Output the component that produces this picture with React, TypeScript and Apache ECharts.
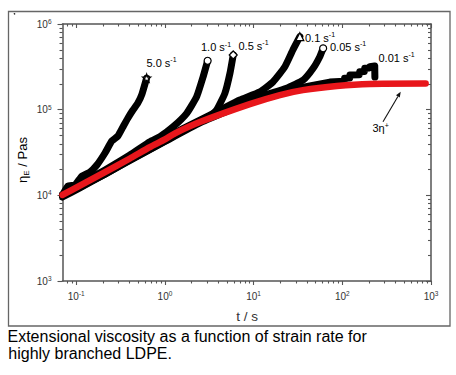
import React, { useEffect, useRef } from "react";
import * as echarts from "echarts";

// ---- data (t in s, eta_E in Pa·s) ----
const tLVE = [0.07, 0.11, 0.211, 0.403, 0.677, 1.0, 1.3, 2.48, 9.06, 19.8, 35.9, 86.8, 204, 870];
const etaLVE = [10100, 13000, 18700, 26900, 36600, 44900, 53000, 71700, 116000, 148000, 169000, 189000, 200000, 202000];

const t5_0 = [0.07, 0.0807, 0.0967, 0.116, 0.143, 0.171, 0.211, 0.252, 0.295, 0.336, 0.383, 0.436, 0.496, 0.551, 0.622];
const eta5_0 = [10100, 12900, 13200, 16800, 18700, 22600, 31200, 43100, 49300, 62800, 80000, 99000, 120000, 152000, 234000];

const t1_0 = [0.07, 0.11, 0.211, 0.403, 0.677, 0.878, 1.24, 1.76, 2.28, 2.7, 3.03];
const eta1_0 = [10100, 13600, 19800, 29600, 42300, 48300, 63200, 90600, 142000, 243000, 372000];

const t0_5 = [0.07, 0.11, 0.211, 0.403, 1.0, 1.68, 2.48, 3.21, 3.83, 4.74, 5.41, 5.89];
const eta0_5 = [9800, 12500, 17700, 25800, 43000, 58500, 74000, 82800, 99100, 155000, 266000, 435000];

const t0_1 = [0.07, 0.11, 0.211, 0.403, 1.0, 2.48, 4.17, 7.0, 11.8, 16.6, 22.5, 27.7, 33.2];
const eta0_1 = [10100, 12800, 19200, 28000, 46700, 75700, 99100, 130000, 162000, 212000, 317000, 497000, 711000];

const t0_05 = [0.07, 0.11, 0.211, 0.403, 1.0, 2.48, 5.41, 11.8, 23.5, 36.3, 46.9, 55.7, 60.8];
const eta0_05 = [9560, 12200, 17700, 25600, 42500, 70000, 99100, 141000, 178000, 222000, 304000, 415000, 520000];

const t0_01 = [0.07, 0.11, 0.211, 0.403, 0.677, 1.0, 1.6, 2.48, 4.5, 9.06, 15, 25.6, 43.0, 72.3, 105, 106, 121, 122, 155, 157, 177, 179, 202, 204, 232, 233];
const eta0_01 = [10100, 13200, 19300, 28000, 37500, 46000, 56500, 73500, 93000, 121000, 142000, 170000, 189000, 210000, 214000, 232000, 234000, 254000, 256000, 277000, 279000, 304000, 306000, 317000, 324000, 240000];

const rateLabels = ["5.0", "1.0", "0.5", "0.1", "0.05", "0.01"];

const xMajorTicks = [0.1, 1, 10, 100, 1000];
const yMajorTicks = [1000, 10000, 100000, 1000000];
const xDecades = [0.01, 0.1, 1, 10, 100];
const yDecades = [1000, 10000, 100000];
const minorMult = [2, 3, 4, 5, 6, 7, 8, 9];

const X_MIN = 0.07;
const X_MAX = 1000;
const Y_MIN = 1000;
const Y_MAX = 1000000;

const xMinorTicks = xDecades
  .flatMap((d) => minorMult.map((m) => +(d * m).toPrecision(3)))
  .filter((v) => v > X_MIN && v < X_MAX);
const yMinorTicks = yDecades.flatMap((d) => minorMult.map((m) => d * m));

const AXIS = "#555";
const FONT = "Liberation Sans, Arial, sans-serif";
const RED = "#e8161b";

const STAR =
  "path://M50,0 L61,35 L98,35 L68,57 L79,91 L50,70 L21,91 L32,57 L2,35 L39,35 Z";

function expLabel(v: number) {
  const e = Math.round(Math.log10(v));
  return `{b|10}{s|${e}}`;
}

const tickRich = {
  b: { fontSize: 10, lineHeight: 12, fontFamily: FONT, color: "#333" },
  s: { fontSize: 6.5, lineHeight: 7, fontFamily: FONT, color: "#333", verticalAlign: "top" },
};

function makeAxis(
  kind: "x" | "y",
  position: string,
  ticks: number[],
  len: number,
  inside: boolean,
  showLabel: boolean,
  showLine: boolean
) {
  return {
    type: "log",
    logBase: 10,
    min: kind === "x" ? X_MIN : Y_MIN,
    max: kind === "x" ? X_MAX : Y_MAX,
    position,
    gridIndex: 0,
    axisLine: { show: showLine, onZero: false, lineStyle: { color: AXIS, width: 1.5 } },
    axisTick: {
      show: true,
      customValues: ticks,
      length: len,
      inside,
      lineStyle: { color: AXIS, width: 1.1 },
    },
    axisLabel: showLabel
      ? {
          show: true,
          customValues: ticks,
          margin: kind === "x" ? 9 : 11,
          formatter: (v: number) => expLabel(v),
          rich: tickRich,
        }
      : { show: false },
    splitLine: { show: false },
    minorTick: { show: false },
    minorSplitLine: { show: false },
  };
}

function curve(
  name: string,
  ts: number[],
  etas: number[],
  symbol?: string,
  symbolSize?: number,
  smooth: number | boolean = 0.15
) {
  const data: any[] = ts.map((t, i) => [t, etas[i]]);
  if (symbol) {
    const last = data.length - 1;
    data[last] = {
      value: data[last],
      symbol,
      symbolSize,
      itemStyle: { color: "#fff", borderColor: "#000", borderWidth: 1.2 },
    };
  }
  return {
    type: "line",
    name,
    data,
    xAxisIndex: 0,
    yAxisIndex: 0,
    symbol: "none",
    showSymbol: true,
    showAllSymbol: true,
    smooth,
    lineStyle: { color: "#000", width: 7, cap: "round", join: "round" },
    itemStyle: { color: "#000" },
    z: 2,
    silent: true,
  };
}

const annRich = {
  a: { fontSize: 11, lineHeight: 13, fontFamily: FONT, color: "#222" },
  s: { fontSize: 7, lineHeight: 8, fontFamily: FONT, color: "#222", verticalAlign: "top" },
};

function ann(text: string, x: number, y: number) {
  return {
    type: "text",
    x,
    y,
    silent: true,
    style: {
      text,
      rich: annRich,
      align: "left",
      verticalAlign: "middle",
    },
    z: 10,
  };
}

export default function App() {
  const ref = useRef<HTMLDivElement>(null);

  useEffect(() => {
    if (!ref.current) return;
    const chart = echarts.init(ref.current, undefined, { renderer: "svg" });

    // arrow geometry (pointing to the 3η+ curve)
    const tail = [383, 121.7];
    const tip = [400.7, 91.7];
    const dx = tip[0] - tail[0];
    const dy = tip[1] - tail[1];
    const L = Math.hypot(dx, dy);
    const ux = dx / L;
    const uy = dy / L;
    const hb = [tip[0] - 5.5 * ux, tip[1] - 5.5 * uy];
    const px = -uy;
    const py = ux;

    const option: any = {
      animation: false,
      backgroundColor: "#fff",
      grid: { left: 62.5, right: 25, top: 24, bottom: 94, containLabel: false },
      xAxis: [
        makeAxis("x", "bottom", xMajorTicks, 4, false, true, true),
        makeAxis("x", "bottom", xMinorTicks, 2.5, false, false, false),
        makeAxis("x", "top", xMajorTicks, 4, true, false, true),
        makeAxis("x", "top", xMinorTicks, 2.5, true, false, false),
      ],
      yAxis: [
        makeAxis("y", "left", yMajorTicks, 5, false, true, true),
        makeAxis("y", "left", yMinorTicks, 3, false, false, false),
        makeAxis("y", "right", yMajorTicks, 5, true, false, true),
        makeAxis("y", "right", yMinorTicks, 3, true, false, false),
      ],
      series: [
        curve(rateLabels[5], t0_01, eta0_01, undefined, undefined, false),
        curve(rateLabels[4], t0_05, eta0_05, "circle", 7),
        curve(rateLabels[3], t0_1, eta0_1, "triangle", 8),
        curve(rateLabels[2], t0_5, eta0_5, "diamond", 8),
        curve(rateLabels[1], t1_0, eta1_0, "circle", 7),
        curve(rateLabels[0], t5_0, eta5_0, STAR, 8),
        {
          type: "line",
          name: "3η+",
          data: tLVE.map((t, i) => [t, etaLVE[i]]),
          xAxisIndex: 0,
          yAxisIndex: 0,
          symbol: "none",
          smooth: 0.2,
          lineStyle: { color: RED, width: 6.5, cap: "round", join: "round" },
          z: 3,
          silent: true,
        },
      ],
      graphic: [
        {
          type: "rect",
          shape: { x: 8.5, y: 11.5, width: 441.5, height: 314.5 },
          style: { fill: "none", stroke: "#666", lineWidth: 1.3 },
          silent: true,
          z: 1,
        },
        {
          type: "circle",
          shape: { cx: 14.5, cy: 13.8, r: 0.8 },
          style: { fill: "#333" },
          silent: true,
        },
        ann(`{a|${rateLabels[0]} s}{s|-1}`, 146.5, 62.5),
        ann(`{a|${rateLabels[1]} s}{s|-1}`, 201, 47),
        ann(`{a|${rateLabels[2]} s}{s|-1}`, 238.5, 45.5),
        ann(`{a|${rateLabels[3]} s}{s|-1}`, 305, 37.5),
        ann(`{a|${rateLabels[4]} s}{s|-1}`, 330, 46.5),
        ann(`{a|${rateLabels[5]} s}{s|-1}`, 378.5, 57.5),
        ann(`{a|3η}{s|+}`, 372.5, 128),
        {
          type: "line",
          shape: { x1: tail[0], y1: tail[1], x2: hb[0], y2: hb[1] },
          style: { stroke: "#111", lineWidth: 1.1 },
          silent: true,
          z: 10,
        },
        {
          type: "polygon",
          shape: {
            points: [
              [tip[0], tip[1]],
              [hb[0] + 2.2 * px, hb[1] + 2.2 * py],
              [hb[0] - 2.2 * px, hb[1] - 2.2 * py],
            ],
          },
          style: { fill: "#111" },
          silent: true,
          z: 10,
        },
        {
          type: "text",
          x: 247,
          y: 316,
          silent: true,
          style: {
            text: "t / s",
            font: `13.5px ${FONT}`,
            fill: "#333",
            align: "center",
            verticalAlign: "middle",
          },
        },
        {
          type: "text",
          x: 22.5,
          y: 160,
          rotation: Math.PI / 2,
          silent: true,
          style: {
            text: "{a|η}{u|E}{a| / Pas}",
            rich: {
              a: { fontSize: 13, lineHeight: 15, fontFamily: FONT, color: "#333" },
              u: { fontSize: 8, lineHeight: 9, fontFamily: FONT, color: "#333", verticalAlign: "bottom" },
            },
            align: "center",
            verticalAlign: "middle",
          },
        },
        {
          type: "text",
          x: 7.5,
          y: 336.4,
          silent: true,
          style: {
            text: "Extensional viscosity as a function of strain rate for",
            font: `16px ${FONT}`,
            fill: "#000",
            align: "left",
            verticalAlign: "middle",
          },
        },
        {
          type: "text",
          x: 8.3,
          y: 353.7,
          silent: true,
          style: {
            text: "highly branched LDPE.",
            font: `16px ${FONT}`,
            fill: "#000",
            align: "left",
            verticalAlign: "middle",
          },
        },
      ],
    };

    chart.setOption(option);
    return () => chart.dispose();
  }, []);

  return (
    <div
      ref={ref}
      style={{ position: "absolute", left: 0, top: 0, width: 456, height: 375 }}
    />
  );
}
